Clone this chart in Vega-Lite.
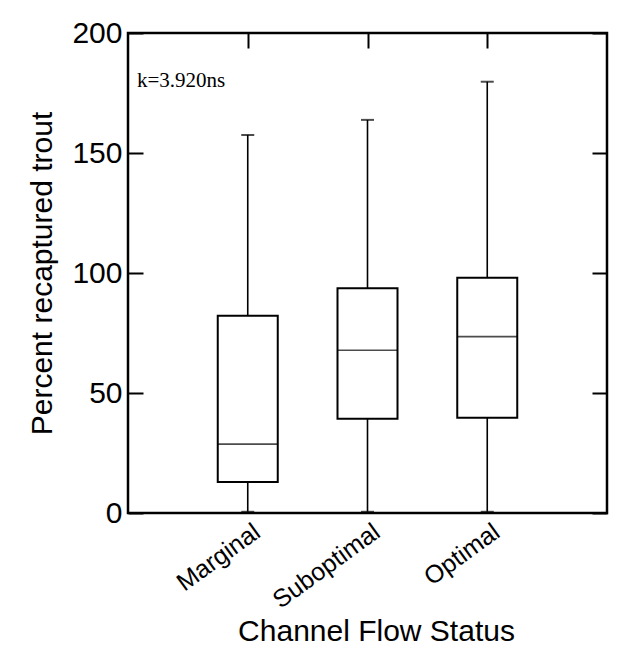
{
  "$schema": "https://vega.github.io/schema/vega-lite/v6.json",
  "width": 479,
  "height": 480,
  "autosize": {"type": "none"},
  "padding": {"left": 128, "top": 33, "right": 19, "bottom": 147},
  "background": "white",
  "title": {
    "text": "k=3.920ns",
    "anchor": "start",
    "frame": "group",
    "font": "Liberation Serif",
    "fontSize": 21,
    "fontWeight": "normal",
    "color": "black",
    "baseline": "alphabetic",
    "offset": 0,
    "dx": 9,
    "dy": 90
  },
  "config": {
    "view": {"stroke": "black", "strokeWidth": 2.5},
    "axis": {
      "domain": false,
      "grid": false,
      "labelFont": "Liberation Sans",
      "titleFont": "Liberation Sans",
      "labelColor": "black",
      "titleColor": "black",
      "tickColor": "black",
      "titleFontWeight": "normal"
    }
  },
  "data": {
    "values": [
      {"status": "Marginal", "min": 0.5, "q1": 12.9, "median": 28.7, "q3": 82.2, "max": 157.5},
      {"status": "Suboptimal", "min": 0.5, "q1": 39.3, "median": 67.8, "q3": 93.6, "max": 163.8},
      {"status": "Optimal", "min": 0.5, "q1": 39.7, "median": 73.5, "q3": 98.0, "max": 179.7}
    ]
  },
  "resolve": {"axis": {"x": "independent", "y": "independent"}},
  "layer": [
    {
      "mark": {"type": "rule", "color": "black", "strokeWidth": 1.6},
      "encoding": {
        "x": {
          "field": "status", "type": "nominal", "sort": null,
          "scale": {"type": "point", "padding": 1},
          "axis": {
            "orient": "bottom",
            "ticks": false,
            "labelAngle": -36,
            "labelAlign": "right",
            "labelBaseline": "top",
            "labelFontSize": 25,
            "labelPadding": 6,
            "labelOffset": 2,
            "title": "Channel Flow Status",
            "titleFontSize": 30,
            "titleX": 248,
            "titleY": 127,
            "titleBaseline": "alphabetic",
            "titleAnchor": null
          }
        },
        "y": {
          "field": "min", "type": "quantitative",
          "scale": {"domain": [0, 200], "nice": false},
          "axis": {
            "orient": "left",
            "values": [0, 50, 100, 150, 200],
            "tickSize": -15,
            "tickWidth": 2,
            "labelFontSize": 30,
            "labelPadding": 21,
            "labelBaseline": "middle",
            "title": "Percent recaptured trout",
            "titleFontSize": 30,
            "titleX": -77,
            "titleY": 240,
            "titleBaseline": "alphabetic",
            "titleAngle": -90
          }
        },
        "y2": {"field": "max"}
      }
    },
    {
      "mark": {"type": "tick", "color": "black", "size": 13, "thickness": 2},
      "encoding": {
        "x": {
          "field": "status", "type": "nominal", "sort": null,
          "axis": {
            "orient": "top",
            "labels": false,
            "ticks": true,
            "tickSize": -15,
            "tickWidth": 2,
            "title": null
          }
        },
        "y": {
          "field": "max", "type": "quantitative",
          "axis": {
            "orient": "right",
            "values": [0, 50, 100, 150, 200],
            "labels": false,
            "tickSize": -15,
            "tickWidth": 2,
            "title": null
          }
        }
      }
    },
    {
      "mark": {"type": "tick", "color": "black", "size": 13, "thickness": 2},
      "encoding": {
        "x": {"field": "status", "type": "nominal", "sort": null, "axis": null},
        "y": {"field": "min", "type": "quantitative", "axis": null}
      }
    },
    {
      "mark": {"type": "bar", "fill": "white", "stroke": "black", "strokeWidth": 2, "size": 60},
      "encoding": {
        "x": {"field": "status", "type": "nominal", "sort": null, "axis": null},
        "y": {"field": "q1", "type": "quantitative", "axis": null},
        "y2": {"field": "q3"}
      }
    },
    {
      "mark": {"type": "tick", "color": "black", "size": 60, "thickness": 1.6},
      "encoding": {
        "x": {"field": "status", "type": "nominal", "sort": null, "axis": null},
        "y": {"field": "median", "type": "quantitative", "axis": null}
      }
    }
  ]
}
